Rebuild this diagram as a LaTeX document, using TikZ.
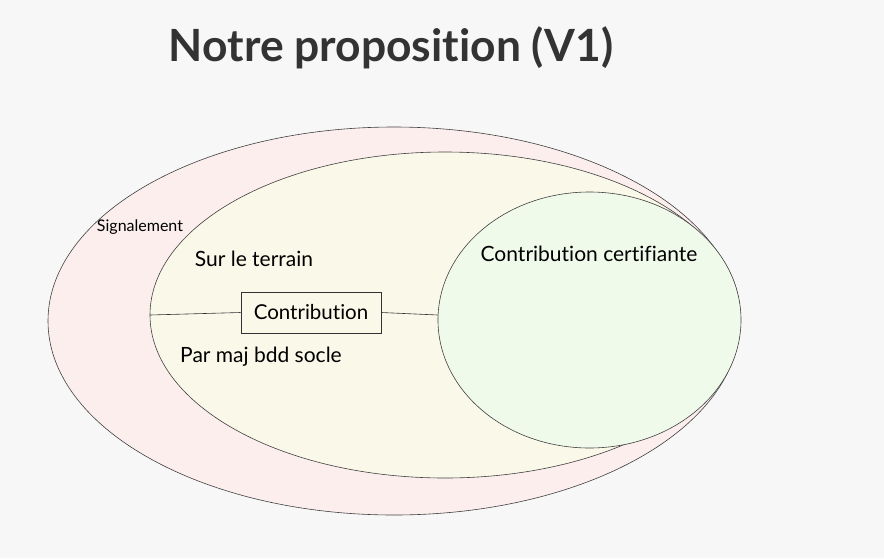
\documentclass[tikz,border=0pt]{standalone}
\usepackage{fontspec}
\setmainfont{Lato}[Ligatures={NoCommon}]
\definecolor{bg}{RGB}{247,247,247}
\definecolor{pinkf}{RGB}{253,238,238}
\definecolor{yellowf}{RGB}{250,248,232}
\definecolor{greenf}{RGB}{240,250,235}
\definecolor{titlec}{RGB}{51,51,51}
\begin{document}
\begin{tikzpicture}[x=1pt,y=-1pt,
  zone/.style={draw=black!75,line width=0.6pt},
  lbl/.style={inner sep=0pt,text=black},
  link/.style={draw=black!80,line width=0.6pt}]
\fill[bg] (0,0) rectangle (884,558);
\useasboundingbox (0,0) rectangle (884,558);
\node[lbl,text=titlec,font=\fontsize{44.4}{50}\selectfont\bfseries] (title) at (391,48) {Notre proposition (V1)};
\draw[zone,fill=pinkf] (394,321) ellipse [x radius=346, y radius=194];
\draw[zone,fill=yellowf] (445,315) ellipse [x radius=295, y radius=163];
\draw[zone,fill=greenf] (589.5,320) ellipse [x radius=151.5, y radius=128];
\coordinate (yl) at (150,315);
\coordinate (gl) at (438,315);
\node[draw=black!80,line width=0.6pt,fill=yellowf,minimum width=140,minimum height=41,inner sep=0pt,font=\fontsize{20.5}{22}\selectfont] (contrib) at (311,312.5) {Contribution};
\draw[link] (yl) -- (contrib.west);
\draw[link] (contrib.east) -- (gl);
\node[lbl,font=\fontsize{16}{18}\selectfont] (sig) at (140,227) {Signalement};
\node[lbl,font=\fontsize{21}{23}\selectfont] (terrain) at (254,259) {Sur le terrain};
\node[lbl,font=\fontsize{21}{23}\selectfont] (maj) at (261,357) {Par maj bdd socle};
\node[lbl,font=\fontsize{21}{23}\selectfont] (cert) at (589,254) {Contribution certifiante};
\end{tikzpicture}
\end{document}
